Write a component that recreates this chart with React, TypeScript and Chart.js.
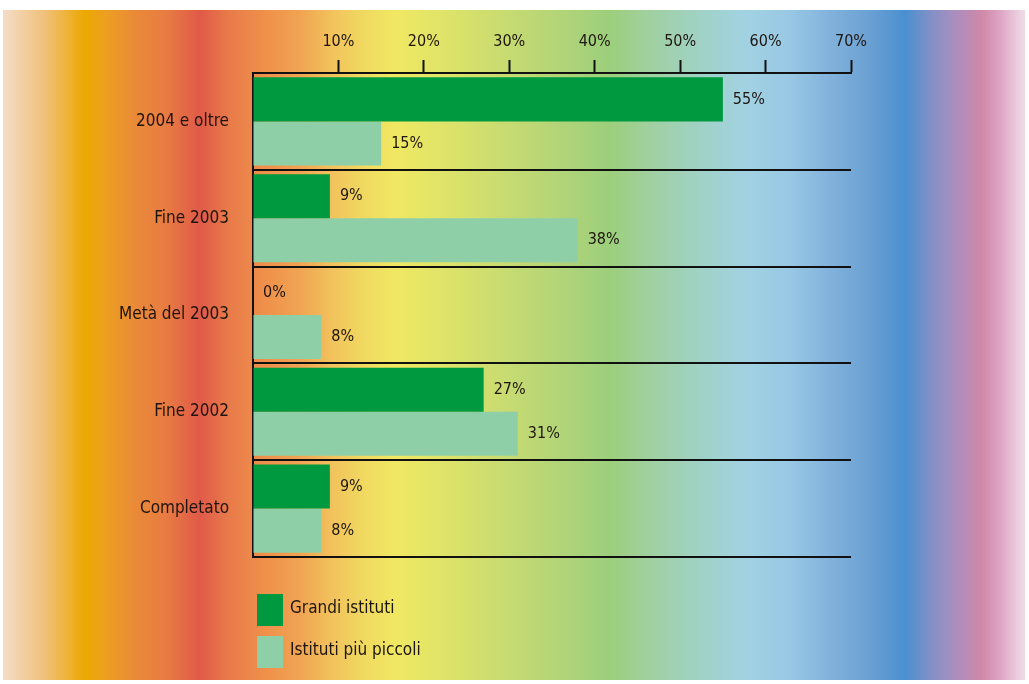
import React, { useEffect, useRef } from 'react';
import { Chart, registerables } from 'chart.js';

Chart.register(...registerables);

// ---- data ----
const categories = ['2004 e oltre', 'Fine 2003', 'Metà del 2003', 'Fine 2002', 'Completato'];
const grandiIstituti = [55, 9, 0, 27, 9];
const istitutiPiuPiccoli = [15, 38, 8, 31, 8];
const seriesLabels = ['Grandi istituti', 'Istituti più piccoli'];
const xTickValues = [0, 10, 20, 30, 40, 50, 60, 70];

// ---- styles ----
const FONT = "'Liberation Sans Narrow', 'Arial Narrow', 'DejaVu Sans Condensed', sans-serif";
const TEXT = '#1e1510';
const DARK_GREEN = '#00993f';
const LIGHT_GREEN = '#8fcfa8';

const gradientStops: [number, string][] = [
  [5, '#f4dcc4'],
  [45, '#f0c07a'],
  [85, '#eca800'],
  [105, '#eca020'],
  [135, '#ea8a38'],
  [165, '#e87c42'],
  [200, '#e05a48'],
  [228, '#e87a4a'],
  [262, '#ef8e4a'],
  [300, '#f0a452'],
  [332, '#f2c25c'],
  [362, '#f0d860'],
  [395, '#f0e862'],
  [440, '#e0e468'],
  [500, '#cadc70'],
  [560, '#b2d478'],
  [610, '#9ccf7c'],
  [650, '#a0d0a0'],
  [700, '#a0d2c6'],
  [745, '#a2d2e2'],
  [790, '#98c8e4'],
  [830, '#82b2dc'],
  [870, '#6aa0d2'],
  [905, '#4a90d0'],
  [930, '#8090c6'],
  [955, '#aa8ebe'],
  [982, '#d088a8'],
  [1002, '#e0a8c8'],
  [1022, '#eed8e4'],
];

const bgPlugin = {
  id: 'rainbowBg',
  beforeDraw(chart: any) {
    const { ctx, width, height } = chart;
    ctx.save();
    ctx.fillStyle = '#ffffff';
    ctx.fillRect(0, 0, width, height);
    const x0 = 3, x1 = 1025, y0 = 10, y1 = 680;
    const g = ctx.createLinearGradient(x0, 0, x1, 0);
    gradientStops.forEach(([p, c]) => g.addColorStop(Math.min(1, Math.max(0, (p - x0) / (x1 - x0))), c));
    ctx.fillStyle = g;
    ctx.fillRect(x0, y0, x1 - x0, y1 - y0);
    ctx.restore();
  },
};

const valueLabelPlugin = {
  id: 'valueLabels',
  afterDatasetsDraw(chart: any) {
    const { ctx } = chart;
    ctx.save();
    ctx.font = `16px ${FONT}`;
    ctx.fillStyle = TEXT;
    ctx.textAlign = 'left';
    ctx.textBaseline = 'middle';
    chart.data.datasets.forEach((ds: any, di: number) => {
      const meta = chart.getDatasetMeta(di);
      meta.data.forEach((bar: any, i: number) => {
        ctx.fillText(`${ds.data[i]}%`, bar.x + 10, bar.y);
      });
    });
    ctx.restore();
  },
};

const legendPlugin = {
  id: 'stackedLegend',
  afterDraw(chart: any) {
    const { ctx, chartArea } = chart;
    ctx.save();
    ctx.font = `17px ${FONT}`;
    ctx.textAlign = 'left';
    ctx.textBaseline = 'middle';
    chart.data.datasets.forEach((ds: any, i: number) => {
      const bx = chartArea.left + 4;
      const by = chartArea.bottom + 37 + i * 42;
      ctx.fillStyle = ds.backgroundColor;
      ctx.fillRect(bx, by, 26, 32);
      ctx.fillStyle = TEXT;
      ctx.fillText(ds.label, bx + 33, by + 15);
    });
    ctx.restore();
  },
};

export default function App() {
  const canvasRef = useRef<HTMLCanvasElement | null>(null);

  useEffect(() => {
    if (!canvasRef.current) return;
    const chart = new Chart(canvasRef.current, {
      type: 'bar',
      data: {
        labels: categories,
        datasets: [
          {
            label: seriesLabels[0],
            data: grandiIstituti,
            backgroundColor: DARK_GREEN,
            borderWidth: 0,
            categoryPercentage: 0.91,
            barPercentage: 1,
          },
          {
            label: seriesLabels[1],
            data: istitutiPiuPiccoli,
            backgroundColor: LIGHT_GREEN,
            borderWidth: 0,
            categoryPercentage: 0.91,
            barPercentage: 1,
          },
        ],
      },
      options: {
        indexAxis: 'y',
        responsive: false,
        animation: false,
        layout: { padding: { left: 0, top: 0, right: 178, bottom: 127 } },
        plugins: {
          legend: { display: false },
          tooltip: { enabled: false },
        },
        scales: {
          x: {
            position: 'top',
            min: 0,
            max: 70,
            afterBuildTicks: (scale: any) => {
              scale.ticks = xTickValues.map((v) => ({ value: v }));
            },
            afterFit: (scale: any) => {
              scale.height = 73;
            },
            border: { color: '#111', width: 2 },
            grid: {
              drawOnChartArea: false,
              drawTicks: true,
              tickLength: 13,
              tickWidth: 2,
              tickColor: (ctx: any) => (ctx.tick && ctx.tick.value === 0 ? 'rgba(0,0,0,0)' : '#111'),
            },
            ticks: {
              padding: 9,
              color: TEXT,
              font: { family: FONT, size: 16 },
              callback: (v: any) => (v === 0 ? '' : `${v}%`),
            },
          },
          y: {
            afterFit: (scale: any) => {
              scale.width = 253;
            },
            border: { color: '#111', width: 2 },
            grid: {
              offset: true,
              color: '#111',
              lineWidth: 2,
              drawTicks: false,
            },
            ticks: {
              padding: 24,
              color: TEXT,
              font: { family: FONT, size: 17 },
            },
          },
        },
      },
      plugins: [bgPlugin, valueLabelPlugin, legendPlugin],
    } as any);
    return () => chart.destroy();
  }, []);

  return (
    <div style={{ position: 'fixed', left: 0, top: 0, width: 1029, height: 684, background: '#fff' }}>
      <canvas ref={canvasRef} width={1029} height={684} style={{ display: 'block' }} />
    </div>
  );
}
